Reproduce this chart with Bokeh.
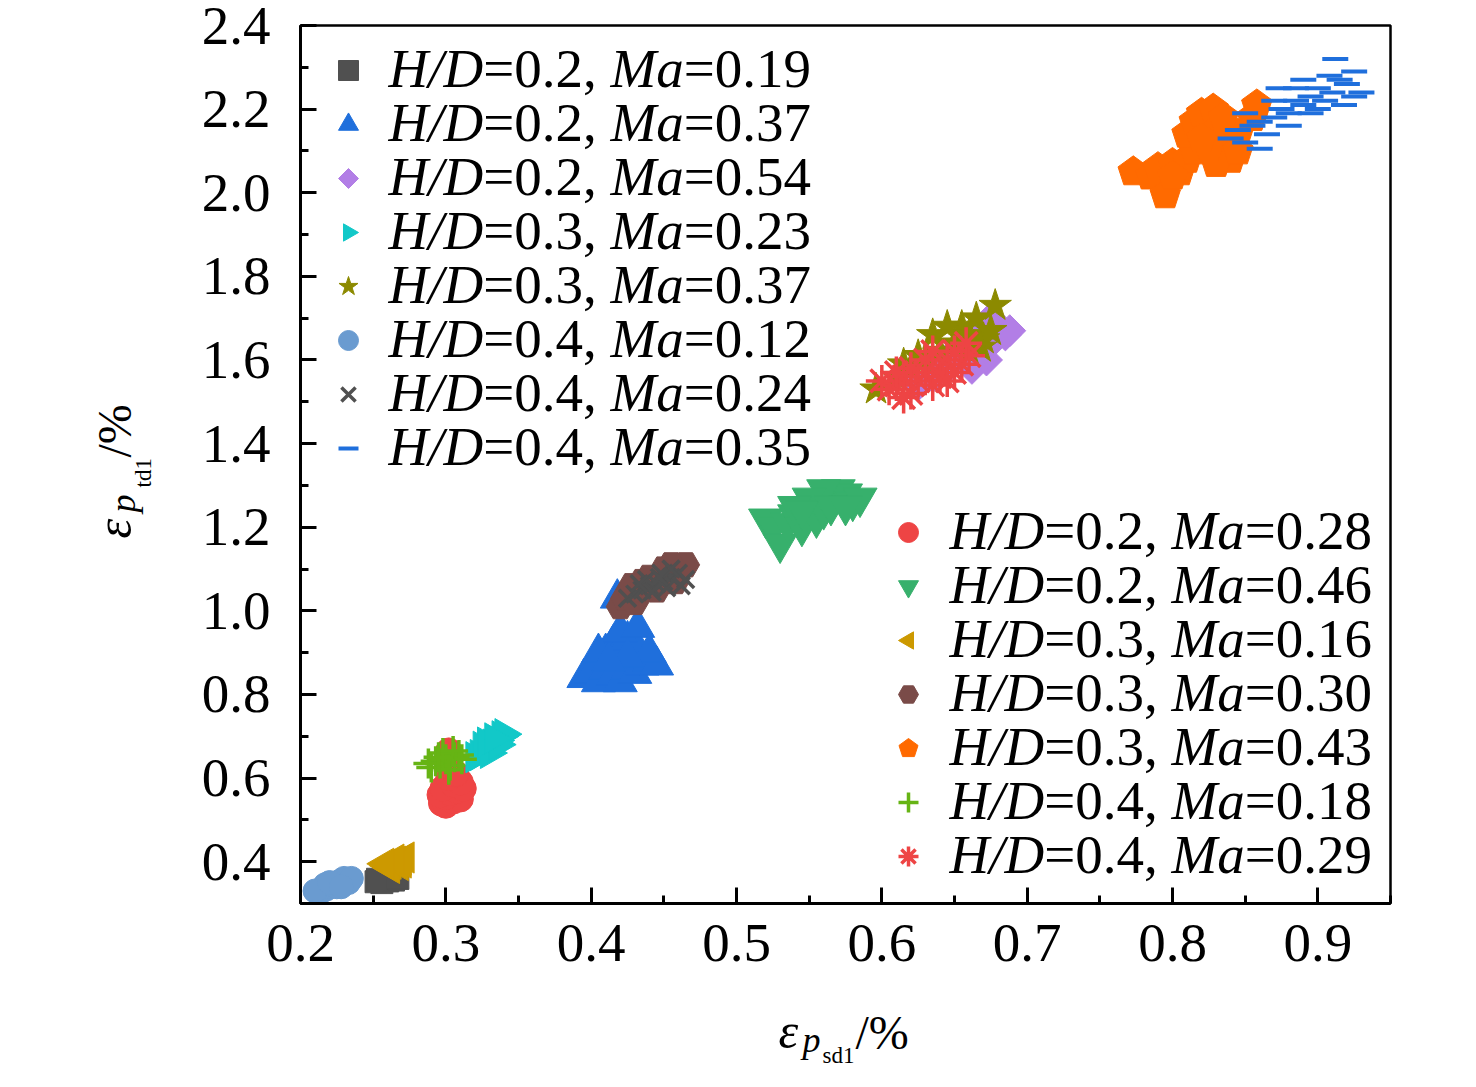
import math
from bokeh.plotting import figure
from bokeh.models import Legend, LegendItem, Label, Range1d, FixedTicker, PrintfTickFormatter
from bokeh.core.properties import value
from bokeh.embed import file_html
from bokeh.resources import INLINE

FONT = "Liberation Serif"

# ---------------- data ----------------
# H/D=0.2
hd02_ma019_x = [0.252, 0.255, 0.258, 0.262, 0.265, 0.256, 0.260, 0.264, 0.253, 0.267]
hd02_ma019_y = [0.352, 0.355, 0.358, 0.360, 0.362, 0.350, 0.354, 0.356, 0.358, 0.360]

hd02_ma028_x = [0.297, 0.300, 0.305, 0.310, 0.300, 0.296, 0.303, 0.308, 0.312, 0.298, 0.305, 0.310, 0.302, 0.307, 0.302]
hd02_ma028_y = [0.540, 0.535, 0.545, 0.550, 0.555, 0.560, 0.565, 0.570, 0.575, 0.575, 0.585, 0.590, 0.600, 0.610, 0.665]

hd02_ma037_x = [0.395, 0.400, 0.405, 0.410, 0.415, 0.420, 0.425, 0.430, 0.435, 0.440, 0.445, 0.410,
                0.415, 0.420, 0.425, 0.430, 0.420, 0.432, 0.418, 0.405, 0.440, 0.425, 0.412]
hd02_ma037_y = [0.840, 0.850, 0.830, 0.860, 0.845, 0.830, 0.860, 0.850, 0.870, 0.880, 0.870, 0.900,
                0.920, 0.910, 0.930, 0.920, 0.950, 0.960, 1.030, 0.900, 0.900, 0.890, 0.880]

hd02_ma046_x = [0.520, 0.525, 0.530, 0.535, 0.540, 0.545, 0.550, 0.555, 0.560, 0.565, 0.570, 0.575,
                0.580, 0.585, 0.560, 0.550, 0.540, 0.565, 0.545, 0.575]
hd02_ma046_y = [1.220, 1.200, 1.160, 1.210, 1.230, 1.200, 1.250, 1.220, 1.240, 1.270, 1.290, 1.280,
                1.260, 1.270, 1.290, 1.270, 1.250, 1.250, 1.240, 1.250]

hd02_ma054_x = [0.625, 0.635, 0.645, 0.655, 0.665, 0.675, 0.685, 0.680, 0.670, 0.660, 0.650, 0.640,
                0.688, 0.672, 0.662, 0.675]
hd02_ma054_y = [1.540, 1.560, 1.580, 1.600, 1.620, 1.640, 1.660, 1.680, 1.670, 1.640, 1.620, 1.600,
                1.670, 1.600, 1.580, 1.700]

# H/D=0.3
hd03_ma016_x = [0.260, 0.263, 0.266, 0.270, 0.272, 0.262, 0.268, 0.270, 0.265, 0.258]
hd03_ma016_y = [0.390, 0.395, 0.400, 0.405, 0.410, 0.385, 0.392, 0.398, 0.405, 0.395]

hd03_ma023_x = [0.320, 0.323, 0.326, 0.329, 0.332, 0.335, 0.338, 0.340, 0.325, 0.330, 0.336, 0.328, 0.333]
hd03_ma023_y = [0.650, 0.655, 0.665, 0.670, 0.680, 0.690, 0.700, 0.705, 0.675, 0.660, 0.680, 0.685, 0.695]

hd03_ma030_x = [0.420, 0.423, 0.428, 0.430, 0.435, 0.440, 0.445, 0.450, 0.455, 0.460, 0.465, 0.440,
                0.450, 0.455, 0.435, 0.445, 0.458, 0.428]
hd03_ma030_y = [1.010, 1.030, 1.040, 1.020, 1.050, 1.060, 1.070, 1.080, 1.090, 1.100, 1.110, 1.080,
                1.100, 1.110, 1.070, 1.050, 1.070, 1.060]

hd03_ma037_x = [0.596, 0.610, 0.620, 0.630, 0.640, 0.650, 0.655, 0.660, 0.665, 0.670, 0.675, 0.678,
                0.645, 0.635, 0.668, 0.660, 0.625, 0.615]
hd03_ma037_y = [1.530, 1.560, 1.580, 1.600, 1.620, 1.640, 1.680, 1.660, 1.700, 1.650, 1.670, 1.730,
                1.680, 1.660, 1.630, 1.620, 1.610, 1.590]

hd03_ma043_x = [0.773, 0.785, 0.795, 0.790, 0.800, 0.805, 0.810, 0.815, 0.810, 0.815, 0.820, 0.828,
                0.830, 0.835, 0.840, 0.830, 0.825, 0.820, 0.845, 0.845, 0.855, 0.858, 0.800, 0.835]
hd03_ma043_y = [2.050, 2.040, 1.995, 2.060, 2.070, 2.050, 2.080, 2.100, 2.140, 2.170, 2.190, 2.200,
                2.150, 2.120, 2.080, 2.070, 2.110, 2.130, 2.140, 2.100, 2.180, 2.210, 2.040, 2.180]

# H/D=0.4
hd04_ma012_x = [0.212, 0.215, 0.218, 0.220, 0.222, 0.225, 0.228, 0.230, 0.217, 0.225, 0.233, 0.235,
                0.210, 0.220, 0.228]
hd04_ma012_y = [0.325, 0.330, 0.335, 0.340, 0.345, 0.350, 0.355, 0.360, 0.345, 0.340, 0.350, 0.360,
                0.330, 0.350, 0.340]

hd04_ma018_x = [0.290, 0.293, 0.296, 0.300, 0.303, 0.306, 0.309, 0.298, 0.302, 0.288, 0.311, 0.305, 0.295]
hd04_ma018_y = [0.625, 0.640, 0.635, 0.645, 0.630, 0.650, 0.655, 0.660, 0.620, 0.635, 0.645, 0.665, 0.650]

hd04_ma024_x = [0.425, 0.430, 0.435, 0.440, 0.445, 0.450, 0.455, 0.460, 0.465, 0.438, 0.448, 0.455,
                0.442, 0.452, 0.462, 0.433, 0.447]
hd04_ma024_y = [1.030, 1.040, 1.050, 1.060, 1.065, 1.070, 1.080, 1.090, 1.075, 1.075, 1.090, 1.100,
                1.045, 1.055, 1.060, 1.065, 1.080]

hd04_ma029_x = [0.600, 0.605, 0.610, 0.615, 0.620, 0.625, 0.630, 0.635, 0.640, 0.645, 0.650, 0.655,
                0.660, 0.620, 0.630, 0.640, 0.610, 0.650, 0.615, 0.635, 0.645, 0.658]
hd04_ma029_y = [1.550, 1.530, 1.540, 1.560, 1.520, 1.550, 1.570, 1.540, 1.580, 1.600, 1.620, 1.590,
                1.610, 1.580, 1.600, 1.560, 1.570, 1.570, 1.510, 1.620, 1.550, 1.640]

hd04_ma035_x = [0.840, 0.845, 0.850, 0.855, 0.860, 0.865, 0.870, 0.875, 0.880, 0.885, 0.890, 0.895,
                0.900, 0.905, 0.910, 0.915, 0.920, 0.925, 0.930, 0.908, 0.912, 0.870, 0.860, 0.895,
                0.880, 0.900, 0.918, 0.873, 0.850, 0.890, 0.925, 0.885]
hd04_ma035_y = [2.130, 2.150, 2.120, 2.160, 2.170, 2.140, 2.180, 2.200, 2.190, 2.220, 2.210, 2.230,
                2.250, 2.220, 2.240, 2.270, 2.260, 2.290, 2.240, 2.280, 2.320, 2.220, 2.105, 2.190,
                2.160, 2.200, 2.210, 2.250, 2.190, 2.270, 2.230, 2.250]

# legend texts
left_hd = ["0.2", "0.2", "0.2", "0.3", "0.3", "0.4", "0.4", "0.4"]
left_ma = ["0.19", "0.37", "0.54", "0.23", "0.37", "0.12", "0.24", "0.35"]
right_hd = ["0.2", "0.2", "0.3", "0.3", "0.3", "0.4", "0.4"]
right_ma = ["0.28", "0.46", "0.16", "0.30", "0.43", "0.18", "0.29"]

x_ticks = [0.2, 0.3, 0.4, 0.5, 0.6, 0.7, 0.8, 0.9]
x_minor = [0.25, 0.35, 0.45, 0.55, 0.65, 0.75, 0.85, 0.95]
y_ticks = [0.4, 0.6, 0.8, 1.0, 1.2, 1.4, 1.6, 1.8, 2.0, 2.2, 2.4]
y_minor = [0.3, 0.5, 0.7, 0.9, 1.1, 1.3, 1.5, 1.7, 1.9, 2.1, 2.3]

# ---------------- figure ----------------
FW, FH = 1090, 878
p = figure(frame_width=FW, frame_height=FH,
           min_border_left=300, min_border_top=25, min_border_right=80, min_border_bottom=175,
           x_range=Range1d(0.2, 0.95), y_range=Range1d(0.3, 2.4),
           output_backend="svg", toolbar_location=None)
p.xgrid.visible = False
p.ygrid.visible = False
p.outline_line_color = "black"
p.outline_line_width = 2.5
p.outline_line_alpha = 1.0

TFS = 55
p.xaxis.ticker = FixedTicker(ticks=x_ticks, minor_ticks=x_minor)
p.yaxis.ticker = FixedTicker(ticks=y_ticks, minor_ticks=y_minor)
for ax in (p.xaxis, p.yaxis):
    ax.formatter = PrintfTickFormatter(format="%.1f")
    ax.axis_line_width = 3
    ax.axis_line_color = "black"
    ax.major_tick_line_width = 3
    ax.minor_tick_line_width = 3
    ax.major_tick_line_color = "black"
    ax.minor_tick_line_color = "black"
    ax.major_tick_in = 16
    ax.major_tick_out = 0
    ax.minor_tick_in = 8
    ax.minor_tick_out = 0
    ax.major_label_text_font = FONT
    ax.major_label_text_font_size = f"{TFS}px"
    ax.major_label_text_color = "black"
p.xaxis.major_label_standoff = 21
p.yaxis.major_label_standoff = 30

GRAY = "#505050"
series = {}


def sc(key, xs, ys, marker, color, size, line_width=1.0, fill=True):
    r = p.scatter(xs, ys, marker=marker, size=size,
                  fill_color=color if fill else None, line_color=color, line_width=line_width)
    series[key] = r
    return r


def ng(key, xs, ys, n, color, radius, angle):
    r = p.ngon(x=xs, y=ys, radius=radius, radius_units="screen", n=n, angle=angle,
               fill_color=color, line_color=color)
    series[key] = r
    return r


# drawing order: H/D=0.2, then 0.3, then 0.4
sc("0.2|0.19", hd02_ma019_x, hd02_ma019_y, "square", GRAY, 22)
sc("0.2|0.28", hd02_ma028_x, hd02_ma028_y, "circle", "#ee4444", 26)
sc("0.2|0.37", hd02_ma037_x, hd02_ma037_y, "triangle", "#1f6fdc", 34)
sc("0.2|0.46", hd02_ma046_x, hd02_ma046_y, "inverted_triangle", "#37b06c", 34)
ng("0.2|0.54", hd02_ma054_x, hd02_ma054_y, 4, "#b27ee6", 16, 0.0)             # diamond
ng("0.3|0.16", hd03_ma016_x, hd03_ma016_y, 3, "#cc9900", 18, math.pi / 2)     # pointing left
ng("0.3|0.23", hd03_ma023_x, hd03_ma023_y, 3, "#12c8c8", 18, -math.pi / 2)    # pointing right
sc("0.3|0.30", hd03_ma030_x, hd03_ma030_y, "hex", "#7a4b48", 28)
sc("0.3|0.37", hd03_ma037_x, hd03_ma037_y, "star", "#8c8a00", 34)
ng("0.3|0.43", hd03_ma043_x, hd03_ma043_y, 5, "#ff6a00", 16, 0.0)             # pentagon, point up
sc("0.4|0.12", hd04_ma012_x, hd04_ma012_y, "circle", "#6a9bd0", 24)
sc("0.4|0.18", hd04_ma018_x, hd04_ma018_y, "cross", "#66b414", 30, line_width=3.5, fill=False)
sc("0.4|0.24", hd04_ma024_x, hd04_ma024_y, "x", GRAY, 24, line_width=3.5, fill=False)
sc("0.4|0.29", hd04_ma029_x, hd04_ma029_y, "asterisk", "#ee4444", 32, line_width=3.5, fill=False)
sc("0.4|0.35", hd04_ma035_x, hd04_ma035_y, "dash", "#1f6fdc", 26, line_width=4, fill=False)

# ---------------- legends ----------------
GH, SP = 50, 4
PITCH = GH + SP
LEG_FIX = 23


def make_legend(hds, mas, vx, top):
    n = len(hds)
    items = [LegendItem(label=value(" "), renderers=[series[f"{h}|{m}"]]) for h, m in zip(hds, mas)]
    vy = FH - top - (n * GH + (n - 1) * SP) + LEG_FIX
    lg = Legend(items=items, location=(vx, vy), glyph_width=50, glyph_height=GH, spacing=SP,
                padding=0, margin=0, border_line_color=None, background_fill_alpha=0,
                label_text_font_size="1px", label_standoff=0, label_width=1, label_height=1)
    p.add_layout(lg)


make_legend(left_hd, left_ma, 23, 43)
make_legend(right_hd, right_ma, 583, 505)

ROMAN = {"0": 0.5, "1": 0.5, "2": 0.5, "3": 0.5, "4": 0.5, "5": 0.5, "6": 0.5, "7": 0.5, "8": 0.5,
         "9": 0.5, ".": 0.25, ",": 0.25, " ": 0.25, "=": 0.564, "/": 0.278, "%": 0.833}
ITAL = {"H": 0.722, "/": 0.278, "D": 0.722, "M": 0.833, "a": 0.5}


def tw(s, italic):
    t = ITAL if italic else ROMAN
    return sum(t.get(c, 0.5) for c in s)


def mk(x, y, s, size, italic=False, angle=0.0, units="screen"):
    return Label(x=x, y=y, x_units=units, y_units=units, text=s, text_font=FONT,
                 text_font_size=f"{size}px", text_font_style="italic" if italic else "normal",
                 text_color="black", angle=angle, text_baseline="middle", text_align="left")


LFS = 55


def legend_text(hds, mas, x0, top_center):
    for i, (h, m) in enumerate(zip(hds, mas)):
        y = FH - (top_center + i * PITCH)
        x = x0
        for s, it in (("H/D", True), ("=" + h + ", ", False), ("Ma", True), ("=" + m, False)):
            p.add_layout(mk(x, y, s.rstrip(), LFS, italic=it))
            x += tw(s, it) * LFS


legend_text(left_hd, left_ma, 88, 43)
legend_text(right_hd, right_ma, 649, 505)

# ---------------- axis titles (canvas coordinates, in side panels so they are not clipped) ----------------
MID = 0.33  # middle of the text box above the baseline, in em


def title_piece(panel, s, size, italic, base, along, rotated):
    if rotated:
        lab = mk(base - MID * size, along, s, size, italic=italic, angle=math.pi / 2, units="canvas")
    else:
        lab = mk(along, base - MID * size, s, size, italic=italic, units="canvas")
    p.add_layout(lab, panel)


# y title: eps_{p_td1} /%   (baseline given as canvas x, start as canvas y)
title_piece("left", "ε", 50, True, 130, 538, True)
title_piece("left", "p", 36, True, 134, 512, True)
title_piece("left", "td1", 23, False, 151, 487, True)
title_piece("left", "/%", 48, False, 130, 457, True)

# x title: eps_{p_sd1} /%   (baseline given as canvas y, start as canvas x)
title_piece("below", "/%", 48, False, 1048, 855, False)
title_piece("right", "ε", 50, True, 1047, 778, False)
title_piece("right", "p", 36, True, 1051, 802, False)
title_piece("right", "sd1", 23, False, 1063, 822, False)

open("out.html", "w").write(file_html(p, INLINE))
